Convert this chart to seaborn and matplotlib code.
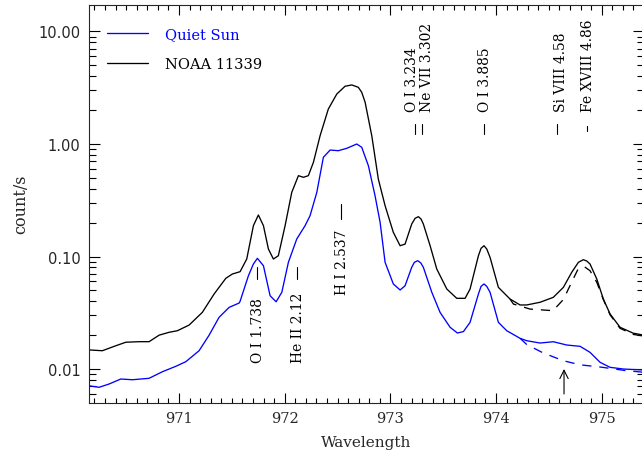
import matplotlib
matplotlib.use("Agg")
import matplotlib.pyplot as plt
import seaborn as sns
import pandas as pd
from matplotlib.ticker import MultipleLocator, LogLocator, FormatStrFormatter, NullFormatter

# ---------------- data ----------------
noaa_wave = [970.14, 970.275, 970.402, 970.497, 970.623, 970.717, 970.812, 970.906, 970.985,
             971.096, 971.221, 971.332, 971.443, 971.505, 971.578, 971.641, 971.704, 971.751,
             971.799, 971.846, 971.893, 971.940, 972.004, 972.067, 972.130, 972.177, 972.224,
             972.272, 972.335, 972.413, 972.493, 972.571, 972.635, 972.697, 972.729, 972.761,
             972.824, 972.886, 972.950, 973.028, 973.092, 973.139, 973.202, 973.234, 973.265,
             973.290, 973.312, 973.376, 973.439, 973.534, 973.628, 973.707, 973.754, 973.833,
             973.858, 973.886, 973.912, 973.943, 974.022, 974.132, 974.227, 974.290, 974.416,
             974.542, 974.637, 974.716, 974.779, 974.826, 974.858, 974.889, 974.953, 975.015,
             975.079, 975.173, 975.299, 975.40]
noaa_counts = [0.0148, 0.01454, 0.0161, 0.0173, 0.0175, 0.0175, 0.0200, 0.0212, 0.0219,
               0.0246, 0.0319, 0.0464, 0.0640, 0.0699, 0.0733, 0.0950, 0.188, 0.234,
               0.188, 0.1166, 0.0950, 0.1016, 0.188, 0.372, 0.523, 0.506, 0.523,
               0.688, 1.185, 2.047, 2.78, 3.26, 3.35, 3.19, 2.88, 2.35,
               1.185, 0.488, 0.283, 0.164, 0.1247, 0.129, 0.1945, 0.2186, 0.226,
               0.2154, 0.1945, 0.1247, 0.0774, 0.0514, 0.0425, 0.0425, 0.0514, 0.1016,
               0.1183, 0.1247, 0.1166, 0.0984, 0.0532, 0.0419, 0.0371, 0.0371, 0.0392,
               0.0434, 0.0532, 0.0724, 0.0888, 0.0937, 0.0912, 0.0858, 0.0631, 0.0419,
               0.0308, 0.0235, 0.0208, 0.0200]

noaa_alt_wave = [974.132, 974.164, 974.322, 974.539, 974.637, 974.716, 974.776, 974.833,
                 974.889, 974.953, 975.015, 975.079, 975.173, 975.299, 975.40]
noaa_alt_counts = [0.0419, 0.0378, 0.0341, 0.0330, 0.0415, 0.0593, 0.0774, 0.0815,
                   0.0748, 0.0590, 0.0415, 0.0303, 0.0230, 0.0203, 0.0196]

quiet_wave = [970.14, 970.244, 970.339, 970.449, 970.559, 970.717, 970.843, 970.970, 971.064,
              971.190, 971.285, 971.379, 971.474, 971.569, 971.578, 971.657, 971.704, 971.742,
              971.799, 971.862, 971.919, 971.973, 972.035, 972.114, 972.193, 972.240, 972.304,
              972.366, 972.430, 972.508, 972.588, 972.682, 972.729, 972.792, 972.855, 972.903,
              972.950, 973.028, 973.092, 973.139, 973.202, 973.227, 973.259, 973.288, 973.312,
              973.392, 973.470, 973.565, 973.634, 973.691, 973.754, 973.833, 973.858, 973.886,
              973.912, 973.943, 974.022, 974.101, 974.227, 974.290, 974.416, 974.542, 974.669,
              974.795, 974.889, 974.984, 975.079, 975.204, 975.40]
quiet_counts = [0.00711, 0.00688, 0.00736, 0.00815, 0.00803, 0.00827, 0.00946, 0.01057, 0.01161,
                0.01454, 0.0200, 0.0288, 0.0353, 0.0386, 0.0400, 0.0675, 0.0858, 0.0964,
                0.0828, 0.0448, 0.0396, 0.0481, 0.0888, 0.143, 0.188, 0.2305, 0.372,
                0.762, 0.884, 0.872, 0.916, 1.00, 0.935, 0.641, 0.347, 0.201,
                0.0888, 0.0570, 0.0504, 0.0550, 0.0802, 0.0888, 0.0918, 0.0876, 0.0802,
                0.0481, 0.0319, 0.0235, 0.0209, 0.0215, 0.0260, 0.0464, 0.0543, 0.0570,
                0.0543, 0.0481, 0.0260, 0.0219, 0.01875, 0.01785, 0.01702, 0.01748, 0.01634,
                0.01591, 0.01407, 0.01147, 0.01035, 0.0100, 0.0098]

quiet_alt_wave = [974.227, 974.290, 974.447, 974.637, 974.795, 974.984, 975.220, 975.40]
quiet_alt_counts = [0.01875, 0.01651, 0.01388, 0.01185, 0.0109, 0.01042, 0.0097, 0.00935]

series_names = ["Quiet Sun", "NOAA 11339"]
upper_labels = ["O I 3.234", "Ne VII 3.302", "O I 3.885", "Si VIII 4.58", "Fe XVIII 4.86"]
upper_waves = [973.234, 973.302, 973.885, 974.58, 974.86]
lower_labels = ["O I 1.738", "He II 2.12", "H I 2.537"]
lower_waves = [971.738, 972.12, 972.537]
arrow_wave = 974.643

# ---------------- style ----------------
sns.set_style("ticks")
plt.rcParams["font.family"] = ["DejaVu Serif", "DejaVu Sans"]
plt.rcParams["axes.linewidth"] = 0.8
plt.rcParams["lines.solid_joinstyle"] = "round"
plt.rcParams["lines.dash_joinstyle"] = "round"

fig = plt.figure(figsize=(6.42, 4.56), dpi=100)
ax = fig.add_axes([89 / 642, 52.5 / 456, 554.5 / 642, 397.5 / 456])

blue = "#0000ff"
lw = 0.95

df_q = pd.DataFrame({"Wavelength": quiet_wave, "count/s": quiet_counts})
df_n = pd.DataFrame({"Wavelength": noaa_wave, "count/s": noaa_counts})
df_qa = pd.DataFrame({"Wavelength": quiet_alt_wave, "count/s": quiet_alt_counts})
df_na = pd.DataFrame({"Wavelength": noaa_alt_wave, "count/s": noaa_alt_counts})

sns.lineplot(data=df_q, x="Wavelength", y="count/s", color=blue, lw=lw, ax=ax,
             label=series_names[0], estimator=None, sort=False)
sns.lineplot(data=df_n, x="Wavelength", y="count/s", color="black", lw=lw, ax=ax,
             label=series_names[1], estimator=None, sort=False)
sns.lineplot(data=df_qa, x="Wavelength", y="count/s", color=blue, lw=lw, ax=ax,
             estimator=None, sort=False, linestyle=(0, (7, 6)), legend=False)
sns.lineplot(data=df_na, x="Wavelength", y="count/s", color="black", lw=lw, ax=ax,
             estimator=None, sort=False, linestyle=(0, (7, 6)), legend=False)

ax.set_yscale("log")
ax.set_xlim(970.1485, 975.395)
ax.set_ylim(0.00504, 17.2)

ax.xaxis.set_major_locator(MultipleLocator(1))
ax.xaxis.set_minor_locator(MultipleLocator(0.1))
ax.yaxis.set_major_locator(LogLocator(base=10))
ax.yaxis.set_minor_locator(LogLocator(base=10, subs=[2, 3, 4, 5, 6, 7, 8, 9]))
ax.yaxis.set_major_formatter(FormatStrFormatter("%.2f"))
ax.yaxis.set_minor_formatter(NullFormatter())

ax.tick_params(axis="both", which="both", direction="in", top=True, right=True,
               width=0.8, color="black")
ax.tick_params(axis="x", which="major", length=7.5, labelsize=10.5, pad=6)
ax.tick_params(axis="x", which="minor", length=3.8)
ax.tick_params(axis="y", which="major", length=8, labelsize=10.5, pad=6)
ax.tick_params(axis="y", which="minor", length=4.8)
for lab in ax.get_yticklabels():
    lab.set_family("DejaVu Sans")

ax.set_xlabel("Wavelength", fontsize=11, labelpad=7)
ax.set_ylabel("count/s", fontsize=11.5, labelpad=7)

leg = ax.legend(loc="upper left", bbox_to_anchor=(0.0325, 0.945), frameon=False,
                fontsize=10.5, handlelength=2.8, handletextpad=1.2, labelspacing=1.1,
                borderpad=0, borderaxespad=0)
for txt, col in zip(leg.get_texts(), [blue, "black"]):
    txt.set_color(col)

# line identifications
text_kw = dict(rotation=90, ha="center", va="bottom", fontsize=10, color="black")
upper_offsets = [-0.03, 0.045, 0.01, 0.03, 0.01]
for lab, w, off in zip(upper_labels, upper_waves, upper_offsets):
    ax.text(w + off, 1.98, lab, **text_kw)
    top = 1.454 if lab.startswith("Fe") else 1.506
    bot = 1.313 if lab.startswith("Fe") else 1.227
    ax.plot([w, w], [bot, top], color="black", lw=0.8)

lower_text_y = [0.01154, 0.01154, 0.0464]
lower_mark = [(0.0631, 0.0806), (0.0631, 0.0806), (0.2154, 0.293)]
for lab, w, ty, (b, t) in zip(lower_labels, lower_waves, lower_text_y, lower_mark):
    ax.text(w + 0.008, ty, lab, **text_kw)
    ax.plot([w, w], [b, t], color="black", lw=0.8)

ax.annotate("", xy=(arrow_wave, 0.0100), xytext=(arrow_wave, 0.0060),
            arrowprops=dict(arrowstyle="->,head_length=0.6,head_width=0.3", lw=0.8,
                            color="black", shrinkA=0, shrinkB=0))

fig.savefig("out.png", dpi=100)
